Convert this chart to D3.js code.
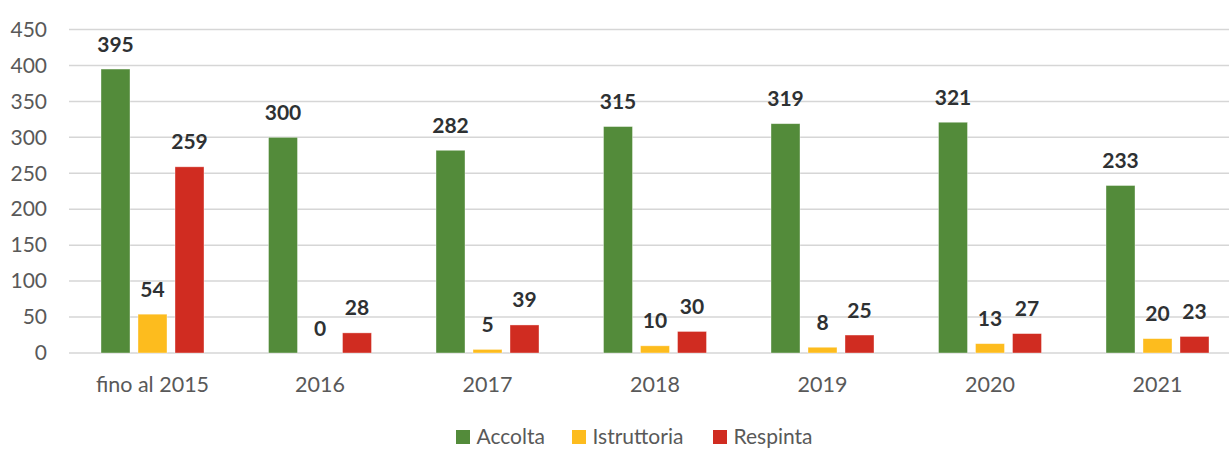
<!DOCTYPE html>
<html>
<head>
<meta charset="utf-8">
<script src="https://cdn.jsdelivr.net/npm/d3@7"></script>
<style>
  body { margin: 0; background: #fff; }
</style>
</head>
<body>
<div id="chart"></div>
<script>
'use strict';
var categories = ["fino al 2015", "2016", "2017", "2018", "2019", "2020", "2021"];
var seriesNames = ["Accolta", "Istruttoria", "Respinta"];
var accolta = [395, 300, 282, 315, 319, 321, 233];
var istruttoria = [54, 0, 5, 10, 8, 13, 20];
var respinta = [259, 28, 39, 30, 25, 27, 23];
var yTicks = [0, 50, 100, 150, 200, 250, 300, 350, 400, 450];
var colors = ["#538b3a", "#fdbc1e", "#d02c21"];

var width = 1229, height = 449;
var fontFamily = "Lato, 'Open Sans', sans-serif";
var series = [accolta, istruttoria, respinta];

var svg = d3.select("#chart").append("svg")
        .attr("width", width)
        .attr("height", height);

// scales
var x0 = d3.scaleBand()
        .domain(categories)
        .range([68.75, 68.75 + 167.5 * categories.length]);

var x1 = d3.scaleBand()
        .domain(seriesNames)
        .range([32.25, 32.25 + 103])
        .paddingInner(8 / 37);

var y = d3.scaleLinear()
        .domain([0, 450])
        .range([353, 29.5]);

// gridlines
svg.append("g")
        .selectAll("line")
        .data(yTicks)
        .enter().append("line")
        .attr("x1", 69)
        .attr("x2", width)
        .attr("y1", function(d) { return y(d); })
        .attr("y2", function(d) { return y(d); })
        .style("stroke", "#d6d6d6")
        .style("stroke-width", 1.5);

// y axis labels
var yAxis = svg.append("g")
        .attr("transform", "translate(69,0)")
        .call(d3.axisLeft(y).tickValues(yTicks).tickSize(0).tickPadding(22));
yAxis.select(".domain").remove();
yAxis.selectAll("text")
        .style("font-family", fontFamily)
        .style("font-size", "21px")
        .style("fill", "#595959");

// x axis labels
var xAxis = svg.append("g")
        .attr("transform", "translate(0,377)")
        .call(d3.axisBottom(x0).tickSize(0).tickPadding(0));
xAxis.select(".domain").remove();
xAxis.selectAll("text")
        .attr("dy", "0.72em")
        .style("font-family", fontFamily)
        .style("font-size", "21.5px")
        .style("fill", "#595959");

// bars
var groups = svg.append("g")
        .selectAll("g")
        .data(categories)
        .enter().append("g")
        .attr("transform", function(d) { return "translate(" + x0(d) + ",0)"; });

var cells = groups.selectAll("g")
        .data(function(d, i) {
            return seriesNames.map(function(s, k) {
                return { name: s, value: series[k][i], color: colors[k] };
            });
        })
        .enter().append("g");

cells.append("rect")
        .attr("x", function(d) { return x1(d.name); })
        .attr("width", x1.bandwidth())
        .attr("y", function(d) { return y(d.value); })
        .attr("height", function(d) { return y(0) - y(d.value); })
        .style("fill", function(d) { return d.color; })
        .style("stroke", "#ffffff")
        .style("stroke-opacity", 0.5)
        .style("stroke-width", 0.75);

// value labels
cells.append("text")
        .attr("x", function(d) { return x1(d.name) + x1.bandwidth() / 2; })
        .attr("y", function(d) { return y(d.value) - 17.5; })
        .attr("text-anchor", "middle")
        .style("font-family", fontFamily)
        .style("font-size", "21px")
        .style("font-weight", "bold")
        .style("fill", "#2e3133")
        .text(function(d) { return d.value; });

// legend
var legendX = [456, 572, 713];
var legend = svg.append("g")
        .selectAll("g")
        .data(seriesNames)
        .enter().append("g")
        .attr("transform", function(d, i) { return "translate(" + legendX[i] + ",430)"; });

legend.append("rect")
        .attr("width", 14)
        .attr("height", 14)
        .style("fill", function(d, i) { return colors[i]; });

legend.append("text")
        .attr("x", 20.5)
        .attr("y", 14)
        .style("font-family", fontFamily)
        .style("font-size", "21px")
        .style("fill", "#595959")
        .text(function(d) { return d; });
</script>
</body>
</html>
